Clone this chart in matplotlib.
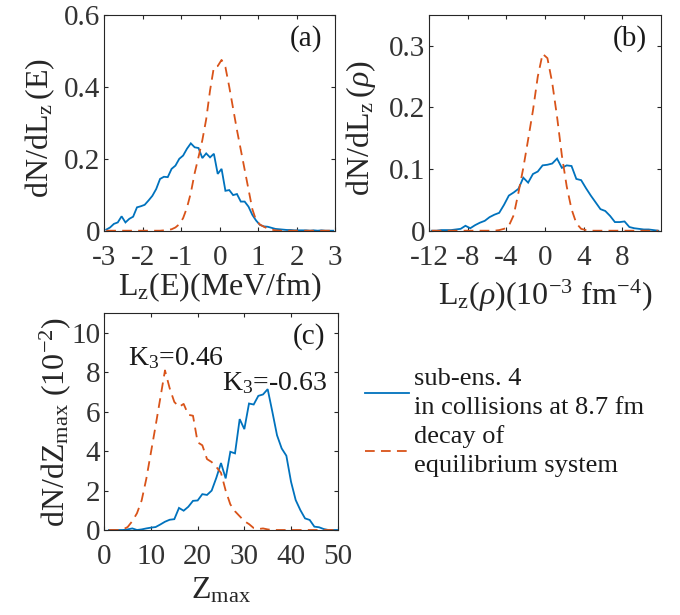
import matplotlib
matplotlib.use('Agg')
import matplotlib.pyplot as plt
from matplotlib.ticker import FixedLocator, FixedFormatter

# ---------------- data ----------------
# panel (a): L_z(E) distributions (MeV/fm)
a_x = [-2.95, -2.85, -2.75, -2.65, -2.55, -2.45, -2.35, -2.25, -2.15, -2.05,
       -1.95, -1.85, -1.75, -1.65, -1.55, -1.45, -1.35, -1.25, -1.15, -1.05,
       -0.95, -0.85, -0.75, -0.65, -0.55, -0.45, -0.35, -0.25, -0.15, -0.05,
       0.05, 0.15, 0.25, 0.35, 0.45, 0.55, 0.65, 0.75, 0.85, 0.95,
       1.05, 1.15, 1.25, 1.35, 1.45, 1.55, 1.65, 1.75, 1.85, 1.95,
       2.05, 2.15, 2.25, 2.35, 2.45, 2.55, 2.65, 2.75, 2.85, 2.95]
a_blue = [0.003, 0.009, 0.019, 0.023, 0.040, 0.023, 0.033, 0.039, 0.065, 0.068,
          0.072, 0.084, 0.097, 0.116, 0.144, 0.150, 0.149, 0.172, 0.181, 0.200,
          0.209, 0.228, 0.243, 0.232, 0.230, 0.202, 0.215, 0.204, 0.214, 0.158,
          0.172, 0.111, 0.113, 0.099, 0.102, 0.081, 0.081, 0.067, 0.044, 0.028,
          0.016, 0.012, 0.011, 0.008, 0.005, 0.004, 0.003, 0.002, 0.002, 0.001,
          0.001, 0.001, 0.001, 0.000, 0.001, 0.000, 0.001, 0.000, 0.000, 0.000]
a_red = [0, 0, 0, 0, 0, 0, 0, 0, 0, 0,
         0, 0, 0, 0, 0, 0.001, 0.002, 0.004, 0.009, 0.018,
         0.035, 0.064, 0.105, 0.160, 0.205, 0.252, 0.310, 0.390, 0.455, 0.458,
         0.475, 0.455, 0.400, 0.340, 0.280, 0.225, 0.170, 0.115, 0.060, 0.028,
         0.017, 0.011, 0.006, 0.003, 0.001, 0, 0, 0, 0, 0,
         0, 0, 0, 0, 0, 0, 0, 0, 0, 0]

# panel (b): L_z(rho) distributions (10^-3 fm^-4)
b_x = [-11.75, -11.25, -10.75, -10.25, -9.75, -9.25, -8.75, -8.25, -7.75, -7.25,
       -6.75, -6.25, -5.75, -5.25, -4.75, -4.25, -3.75, -3.25, -2.75, -2.25,
       -1.75, -1.25, -0.75, -0.25, 0.25, 0.75, 1.25, 1.75, 2.25, 2.75,
       3.25, 3.75, 4.25, 4.75, 5.25, 5.75, 6.25, 6.75, 7.25, 7.75,
       8.25, 8.75, 9.25, 9.75, 10.25, 10.75, 11.25, 11.75]
b_blue = [0.000, 0.000, 0.001, 0.001, 0.001, 0.002, 0.003, 0.008, 0.004, 0.009,
          0.013, 0.016, 0.022, 0.026, 0.029, 0.042, 0.057, 0.062, 0.068, 0.086,
          0.078, 0.092, 0.096, 0.106, 0.107, 0.109, 0.117, 0.102, 0.106, 0.105,
          0.084, 0.082, 0.069, 0.057, 0.046, 0.035, 0.032, 0.024, 0.014, 0.014,
          0.015, 0.006, 0.004, 0.003, 0.002, 0.002, 0.001, 0.000]
b_red = [0, 0, 0, 0, 0, 0, 0, 0, 0, 0,
         0, 0, 0, 0, 0.001, 0.003, 0.008, 0.025, 0.062, 0.102,
         0.148, 0.195, 0.250, 0.287, 0.280, 0.240, 0.185, 0.122, 0.072, 0.035,
         0.012, 0.003, 0.001, 0, 0, 0, 0, 0, 0, 0,
         0, 0, 0, 0, 0, 0, 0, 0]

# panel (c): Z_max distributions (10^-2)
c_x = list(range(1, 51))
c_blue = [0, 0, 0, 0, 0.03, 0.08, 0.0, 0.03, 0.08, 0.12,
          0.15, 0.28, 0.42, 0.52, 0.55, 1.12, 0.98, 1.18, 1.48, 1.50,
          1.82, 1.78, 2.00, 2.65, 3.40, 2.62, 3.97, 3.89, 5.63, 5.12,
          6.42, 6.37, 6.81, 6.88, 7.15, 6.00, 4.81, 4.14, 3.77, 2.45,
          1.52, 1.01, 0.59, 0.51, 0.17, 0.14, 0.05, 0.0, 0.0, 0.0]
c_red = [0, 0, 0, 0.03, 0.15, 0.45, 0.85, 1.50, 2.60, 3.95,
         5.30, 6.70, 8.10, 7.20, 6.50, 6.25, 6.40, 5.85, 5.80, 4.45,
         4.30, 3.60, 3.45, 3.20, 2.90, 2.00, 1.30, 0.95, 0.70, 0.45,
         0.30, 0.10, 0.05, 0.08, 0.03, 0, 0, 0, 0, 0,
         0, 0, 0, 0, 0, 0, 0, 0, 0, 0]

a_xticks = [-3, -2, -1, 0, 1, 2, 3]
a_xticklabels = ['-3', '-2', '-1', '0', '1', '2', '3']
a_yticks = [0, 0.2, 0.4, 0.6]
a_yticklabels = ['0', '0.2', '0.4', '0.6']
b_xticks = [-12, -8, -4, 0, 4, 8]
b_xticklabels = ['-12', '-8', '-4', '0', '4', '8']
b_yticks = [0, 0.1, 0.2, 0.3]
b_yticklabels = ['0', '0.1', '0.2', '0.3']
c_xticks = [0, 10, 20, 30, 40, 50]
c_xticklabels = ['0', '10', '20', '30', '40', '50']
c_yticks = [0, 2, 4, 6, 8, 10]
c_yticklabels = ['0', '2', '4', '6', '8', '10']

legend_labels = ['sub-ens. 4\nin collisions at 8.7 fm', 'decay of\nequilibrium system']

# ---------------- style ----------------
BLUE = '#0072BD'
RED = '#D95319'
AXC = '#262626'
TXT = '#1a1a1a'

plt.rcParams['font.family'] = ['Liberation Serif', 'DejaVu Serif']
plt.rcParams['mathtext.fontset'] = 'custom'
plt.rcParams['mathtext.rm'] = 'Liberation Serif'
plt.rcParams['mathtext.it'] = 'Liberation Serif:italic'
plt.rcParams['mathtext.bf'] = 'Liberation Serif:bold'
plt.rcParams['axes.unicode_minus'] = False
plt.rcParams['lines.scale_dashes'] = False

TICK_FS = 21
LAB_FS = 23

fig = plt.figure(figsize=(6.8, 6.15), dpi=100)

W = 680.0
H = 615.0


def make_ax(l, t, r, b):
    return fig.add_axes([l / W, 1 - b / H, (r - l) / W, (b - t) / H])


ax_a = make_ax(104.3, 15.0, 335.0, 230.7)
ax_b = make_ax(429.3, 15.0, 660.7, 230.7)
ax_c = make_ax(104.3, 313.3, 337.7, 530.0)


def style(ax, xt, xtl, yt, ytl, xlim, ylim):
    ax.set_xlim(*xlim)
    ax.set_ylim(*ylim)
    ax.xaxis.set_major_locator(FixedLocator(xt))
    ax.xaxis.set_major_formatter(FixedFormatter(xtl))
    ax.yaxis.set_major_locator(FixedLocator(yt))
    ax.yaxis.set_major_formatter(FixedFormatter(ytl))
    for s in ax.spines.values():
        s.set_color(AXC)
        s.set_linewidth(0.8)
    ax.tick_params(axis='both', direction='in', length=3, width=0.8,
                   colors=AXC, labelsize=TICK_FS, top=True, right=True)
    ax.tick_params(axis='x', pad=10)
    ax.tick_params(axis='y', pad=3)
    for lab in ax.get_xticklabels() + ax.get_yticklabels():
        lab.set_color('#333333')


def draw(ax, x, yb, yr):
    lb, = ax.plot(x, yb, color=BLUE, lw=1.3, solid_joinstyle='miter')
    lr, = ax.plot(x, yr, color=RED, lw=1.3, linestyle=(0, (7, 4.5)))
    return lb, lr


# (a)
draw(ax_a, a_x, a_blue, a_red)
style(ax_a, a_xticks, a_xticklabels, a_yticks, a_yticklabels, (-3, 3), (0, 0.6))
ax_a.set_xlabel(r'L$_{\mathrm{z}}$(E)(MeV/fm)', fontsize=LAB_FS, color=AXC)
ax_a.set_ylabel(r'dN/dL$_{\mathrm{z}}\,$(E)', fontsize=LAB_FS, color=AXC)
ax_a.xaxis.set_label_coords(0.5, -0.186)
ax_a.yaxis.set_label_coords(-0.205, 0.474)
ax_a.text(0.945, 0.89, '(a)', transform=ax_a.transAxes, ha='right', va='center',
          fontsize=TICK_FS, color=TXT)

# (b)
draw(ax_b, b_x, b_blue, b_red)
style(ax_b, b_xticks, b_xticklabels, b_yticks, b_yticklabels, (-12, 12), (0, 0.35))
ax_b.set_xlabel(r'L$_{\mathrm{z}}$($\rho$)(10$^{\mathrm{-3}}$ fm$^{\mathrm{-4}}$)',
                fontsize=LAB_FS, color=AXC)
ax_b.set_ylabel(r'dN/dL$_{\mathrm{z}}\,$($\rho$)', fontsize=LAB_FS, color=AXC)
ax_b.xaxis.set_label_coords(0.5, -0.22)
ax_b.yaxis.set_label_coords(-0.222, 0.474)
ax_b.text(0.94, 0.89, '(b)', transform=ax_b.transAxes, ha='right', va='center',
          fontsize=TICK_FS, color=TXT)

# (c)
lb, lr = draw(ax_c, c_x, c_blue, c_red)
style(ax_c, c_xticks, c_xticklabels, c_yticks, c_yticklabels, (0, 50), (0, 11))
ax_c.set_xlabel(r'Z$_{\mathrm{max}}$', fontsize=LAB_FS, color=AXC)
ax_c.set_ylabel(r'dN/dZ$_{\mathrm{max}}$ (10$^{\mathrm{-2}}$)', fontsize=LAB_FS, color=AXC)
ax_c.xaxis.set_label_coords(0.5, -0.212)
ax_c.yaxis.set_label_coords(-0.135, 0.5)
ax_c.text(0.945, 0.895, '(c)', transform=ax_c.transAxes, ha='right', va='center',
          fontsize=TICK_FS, color=TXT)
ax_c.text(5.1, 8.36, r'K$_{\mathrm{3}}$=0.46', fontsize=20, color=TXT,
          ha='left', va='baseline')
ax_c.text(25.2, 7.1, r'K$_{\mathrm{3}}$=-0.63', fontsize=20, color=TXT,
          ha='left', va='baseline')

leg = fig.legend([lb, lr], legend_labels, loc='upper left',
                 bbox_to_anchor=(365 / W, 1 - 368 / H), frameon=False,
                 fontsize=19, handlelength=1.65, handletextpad=0.2,
                 labelspacing=0.25, borderaxespad=0, borderpad=0)
for t in leg.get_texts():
    t.set_linespacing(1.4)
    t.set_color(TXT)

fig.savefig('out.png', dpi=100)
